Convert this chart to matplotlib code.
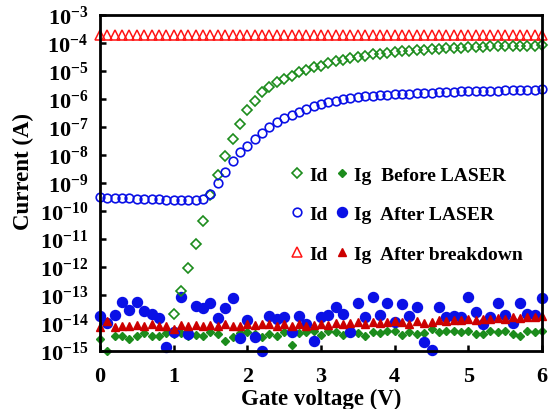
import numpy as np
import matplotlib
matplotlib.use("Agg")
import matplotlib.pyplot as plt

plt.rcParams['font.family'] = ['Liberation Serif', 'DejaVu Serif']
plt.rcParams['font.weight'] = 'bold'
plt.rcParams['mathtext.fontset'] = 'custom'
plt.rcParams['mathtext.rm'] = 'Liberation Serif:bold'
plt.rcParams['mathtext.bf'] = 'Liberation Serif:bold'
plt.rcParams['mathtext.it'] = 'Liberation Serif:bold:italic'

# Gate voltage (V)
gate_v = [0.0, 0.1, 0.2, 0.3, 0.4, 0.5, 0.6, 0.7, 0.8, 0.9,
          1.0, 1.1, 1.2, 1.3, 1.4, 1.5, 1.6, 1.7, 1.8, 1.9,
          2.0, 2.1, 2.2, 2.3, 2.4, 2.5, 2.6, 2.7, 2.8, 2.9,
          3.0, 3.1, 3.2, 3.3, 3.4, 3.5, 3.6, 3.7, 3.8, 3.9,
          4.0, 4.1, 4.2, 4.3, 4.4, 4.5, 4.6, 4.7, 4.8, 4.9,
          5.0, 5.1, 5.2, 5.3, 5.4, 5.5, 5.6, 5.7, 5.8, 5.9, 6.0]

nan = float('nan')
# log10 of current (A)
log_id_before = [nan, nan, nan, nan, nan, nan, nan, nan, nan, nan,
                 -13.68, -12.85, -12.02, -11.17, -10.34, -9.42, -8.70, -8.02, -7.43, -6.89,
                 -6.38, -6.06, -5.76, -5.58, -5.40, -5.29, -5.17, -5.05, -4.95, -4.87,
                 -4.81, -4.73, -4.65, -4.61, -4.55, -4.49, -4.45, -4.41, -4.38, -4.35,
                 -4.32, -4.30, -4.28, -4.26, -4.24, -4.22, -4.21, -4.19, -4.18, -4.17,
                 -4.15, -4.14, -4.13, -4.12, -4.12, -4.11, -4.10, -4.10, -4.09, -4.09, -4.08]
log_ig_before = [-14.57, -15.00, -14.45, -14.46, -14.57, -14.45, -14.37, -14.45, -14.46, -14.37,
                 -14.40, -14.36, -14.45, -14.43, -14.45, -14.33, -14.39, -14.63, -14.51, -14.36,
                 -14.33, -14.39, -14.51, -14.39, -14.47, -14.33, -14.77, -14.36, -14.33, -14.30,
                 -14.43, -14.27, -14.33, -14.43, -14.33, -14.37, -14.45, -14.33, -14.36, -14.27,
                 -14.30, -14.43, -14.33, -14.39, -14.36, -14.20, -14.33, -14.27, -14.27, -14.33,
                 -14.27, -14.39, -14.39, -14.27, -14.33, -14.27, -14.39, -14.47, -14.27, -14.33, -14.27]
log_id_after = [-9.50, -9.52, -9.53, -9.54, -9.55, -9.56, -9.57, -9.58, -9.58, -9.59,
                -9.60, -9.61, -9.61, -9.62, -9.57, -9.39, -9.00, -8.60, -8.20, -7.90,
                -7.67, -7.43, -7.21, -7.01, -6.83, -6.69, -6.56, -6.45, -6.36, -6.26,
                -6.18, -6.12, -6.06, -6.00, -5.98, -5.94, -5.91, -5.88, -5.86, -5.84,
                -5.83, -5.82, -5.81, -5.80, -5.78, -5.77, -5.76, -5.75, -5.74, -5.73,
                -5.72, -5.72, -5.71, -5.70, -5.70, -5.69, -5.68, -5.68, -5.67, -5.67, -5.66]
log_ig_after = [-13.74, -14.00, -13.71, -13.26, -13.52, -13.26, -13.58, -13.68, -13.82, -14.85,
                -14.33, -13.08, -14.39, -13.38, -13.47, -13.29, -13.83, -13.47, -13.11, -14.55,
                -13.90, -14.51, -14.99, -13.74, -13.86, -13.80, -14.33, -13.75, -14.05, -14.63,
                -13.80, -13.71, -13.44, -13.68, -14.31, -13.27, -13.80, -13.08, -13.71, -13.29,
                -13.95, -13.32, -13.76, -13.44, -14.69, -14.97, -13.44, -13.80, -13.74, -13.80,
                -13.06, -13.62, -14.04, -13.80, -13.30, -13.71, -14.00, -13.30, -13.68, -13.71, -13.12]
log_id_breakdown = [-3.70, -3.71, -3.70, -3.70, -3.71, -3.70, -3.70, -3.71, -3.70, -3.70,
                    -3.71, -3.70, -3.70, -3.70, -3.71, -3.70, -3.70, -3.70, -3.71, -3.70,
                    -3.70, -3.71, -3.70, -3.70, -3.70, -3.71, -3.70, -3.70, -3.71, -3.70,
                    -3.70, -3.70, -3.71, -3.70, -3.70, -3.71, -3.70, -3.70, -3.70, -3.71,
                    -3.70, -3.70, -3.71, -3.70, -3.70, -3.70, -3.71, -3.70, -3.70, -3.71,
                    -3.70, -3.70, -3.70, -3.71, -3.70, -3.70, -3.71, -3.70, -3.70, -3.70, -3.71]
log_ig_breakdown = [-14.15, -13.92, -14.16, -14.10, -14.10, -14.08, -14.10, -14.05, -14.10, -14.10,
                    -14.20, -14.06, -14.10, -14.08, -14.10, -14.06, -14.10, -14.03, -14.10, -14.10,
                    -14.05, -14.08, -14.05, -14.02, -14.10, -14.05, -14.12, -14.03, -14.10, -14.07,
                    -14.02, -14.06, -14.00, -14.05, -14.00, -13.98, -14.02, -13.98, -14.00, -13.97,
                    -13.92, -13.96, -14.05, -13.92, -14.00, -13.96, -13.90, -13.92, -13.88, -13.90,
                    -13.86, -13.88, -13.84, -13.86, -13.82, -13.84, -13.80, -13.82, -13.78, -13.80, -13.76]

conditions = ["Before LASER", "After LASER", "After breakdown"]
x_ticks = [0, 1, 2, 3, 4, 5, 6]
y_exponents = [-15, -14, -13, -12, -11, -10, -9, -8, -7, -6, -5, -4, -3]

GREEN = '#1c8c1c'
BLUE = '#0a10e6'
RED_OPEN = '#ff1414'
RED_FILL = '#cc0000'

x = np.array(gate_v)
p = lambda a: 10.0 ** np.array(a)

fig = plt.figure(figsize=(5.5, 4.1), dpi=100)
ax = fig.add_axes([0.1818, 0.1415, 0.8037, 0.8195])

l_ig_g, = ax.plot(x, p(log_ig_before), ls='none', marker='D', ms=4.2, color=GREEN, mec=GREEN, clip_on=False)
l_ig_b, = ax.plot(x, p(log_ig_after), ls='none', marker='o', ms=7.2, color=BLUE, mec=BLUE, clip_on=False)
l_ig_r, = ax.plot(x, p(log_ig_breakdown), ls='none', marker='^', ms=6.0, color=RED_FILL, mec=RED_FILL, clip_on=False)
l_id_r, = ax.plot(x, p(log_id_breakdown), ls='none', marker='^', ms=6.5, mfc='none', mec=RED_OPEN, mew=1.1, clip_on=False)
l_id_g, = ax.plot(x, p(log_id_before), ls='none', marker='D', ms=4.8, mfc='none', mec=GREEN, mew=1.2, clip_on=False)
l_id_b, = ax.plot(x, p(log_id_after), ls='none', marker='o', ms=6.2, mfc='none', mec=BLUE, mew=1.2, clip_on=False)

ax.set_yscale('log')
ax.set_xlim(0, 6)
ax.set_ylim(10.0 ** y_exponents[0], 10.0 ** y_exponents[-1])
ax.set_xticks(x_ticks)
ax.set_xticklabels([str(t) for t in x_ticks])
ax.set_yticks([10.0 ** e for e in y_exponents])
ax.set_yticklabels([r'$\mathregular{10^{%d}}$' % e for e in y_exponents])
ax.minorticks_off()

for s in ax.spines.values():
    s.set_linewidth(2.0)
ax.tick_params(direction='in', length=4, width=1.8, labelsize=16)
ax.tick_params(axis='y', pad=8.5)
ax.tick_params(axis='x', pad=11)

ax.set_xlabel('Gate voltage (V)', fontsize=16.5, fontweight='bold')
ax.set_ylabel('Current (A)', fontsize=16.5, fontweight='bold')
ax.xaxis.set_label_coords(0.5, -0.11)
ax.yaxis.set_label_coords(-0.15, 0.537)

handles = [l_id_g, l_id_b, l_id_r, l_ig_g, l_ig_b, l_ig_r]
labels = ['Id', 'Id', 'Id'] + ['Ig  ' + c for c in conditions]
leg = ax.legend(handles, labels, ncol=2, loc='upper left', bbox_to_anchor=(0.423, 0.562),
                frameon=False, fontsize=14, handlelength=0.6, handletextpad=0.33,
                columnspacing=0.45, labelspacing=1.13, borderpad=0.2, borderaxespad=0)

fig.savefig('out.png', dpi=100)
